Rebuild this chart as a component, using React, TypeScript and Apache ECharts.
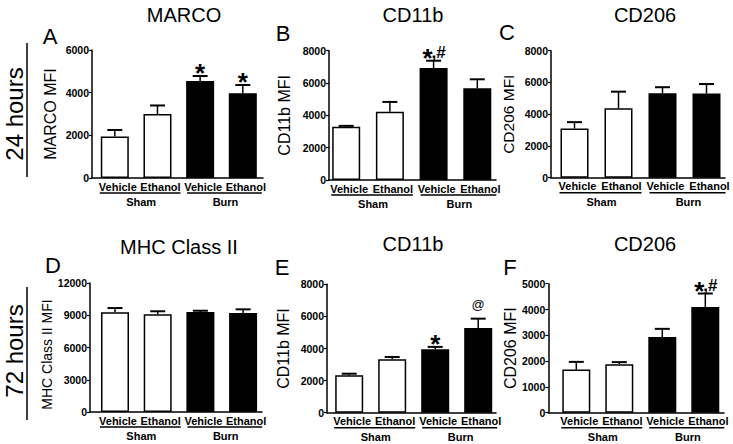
import React, { useEffect, useRef } from "react";
import * as echarts from "echarts";

const FONT = '"Liberation Sans", Arial, Helvetica, sans-serif';

// ---- data ----
const categories = ["Vehicle", "Ethanol", "Vehicle", "Ethanol"];
const groups = ["Sham", "Burn"];
const rowLabels = ["24 hours", "72 hours"];
const titles = ["MARCO", "CD11b", "CD206", "MHC Class II", "CD11b", "CD206"];
const letters = ["A", "B", "C", "D", "E", "F"];
const yNames = ["MARCO MFI", "CD11b MFI", "CD206 MFI", "MHC Class II MFI", "CD11b MFI", "CD206 MFI"];
const yMax = [6000, 8000, 8000, 12000, 8000, 5000];
const yInterval = [2000, 2000, 2000, 3000, 2000, 1000];

const marco24Mean = [1950, 3000, 4550, 3970];
const marco24Err = [300, 400, 230, 390];
const cd11b24Mean = [3300, 4230, 6930, 5670];
const cd11b24Err = [50, 600, 450, 560];
const cd206_24Mean = [3100, 4370, 5320, 5300];
const cd206_24Err = [400, 1050, 380, 600];
const mhc72Mean = [9270, 9090, 9300, 9210];
const mhc72Err = [400, 280, 120, 340];
const cd11b72Mean = [2330, 3330, 3950, 5280];
const cd11b72Err = [100, 140, 150, 580];
const cd206_72Mean = [1670, 1880, 2930, 4100];
const cd206_72Err = [300, 80, 320, 520];

const marco24Annot = ["", "", "*", "*"];
const cd11b24Annot = ["", "", "*,#", ""];
const cd206_24Annot = ["", "", "", ""];
const mhc72Annot = ["", "", "", ""];
const cd11b72Annot = ["", "", "*", "@"];
const cd206_72Annot = ["", "", "", "*,#"];

const means = [marco24Mean, cd11b24Mean, cd206_24Mean, mhc72Mean, cd11b72Mean, cd206_72Mean];
const errs = [marco24Err, cd11b24Err, cd206_24Err, mhc72Err, cd11b72Err, cd206_72Err];
const annots = [marco24Annot, cd11b24Annot, cd206_24Annot, mhc72Annot, cd11b72Annot, cd206_72Annot];

// ---- layout (pixels) ----
const layouts = [
  { axisX: 92, top: 50, bottom: 178, c0: 114.8, step: 42.67, right: 263, nameGap: 34, nameSize: 16, namePad: [0, 0, 0, 0], titleX: 184, titleY: 15, letterX: 50, letterY: 36 },
  { axisX: 329, top: 50.7, bottom: 180, c0: 346.2, step: 43.7, right: 496, nameGap: 37, nameSize: 16, namePad: [0, 0, 0, 0], titleX: 413, titleY: 15, letterX: 283, letterY: 33 },
  { axisX: 551, top: 50.7, bottom: 177.7, c0: 574.5, step: 44, right: 725, nameGap: 35, nameSize: 15.5, namePad: [0, 0, 0, 0], titleX: 645, titleY: 15, letterX: 507, letterY: 32 },
  { axisX: 90, top: 283, bottom: 412, c0: 115, step: 42.7, right: 262, nameGap: 33, nameSize: 14, namePad: [0, 14, 0, 0], titleX: 179, titleY: 247, letterX: 53, letterY: 265 },
  { axisX: 327, top: 284.3, bottom: 412.7, c0: 349.2, step: 43, right: 496, nameGap: 36, nameSize: 16, namePad: [0, 0, 0, 0], titleX: 413, titleY: 244, letterX: 282, letterY: 267 },
  { axisX: 548.3, top: 283.7, bottom: 412.7, c0: 576.3, step: 43, right: 724, nameGap: 26, nameSize: 16, namePad: [0, 0, 0, 0], titleX: 645, titleY: 244, letterX: 510, letterY: 267 },
];
const rowLayout = [
  { x: 14, y: 114, lineX: 27, y1: 43, y2: 177 },
  { x: 14, y: 351, lineX: 27, y1: 287, y2: 420 },
];

function txt(text: string, x: number, y: number, size: number, opts: any = {}) {
  return {
    type: "text", x, y, rotation: opts.rotation || 0, silent: true,
    style: {
      text, fontSize: size, fontFamily: FONT, fontWeight: opts.weight || "normal", fill: "#000",
      align: opts.align || "center", textAlign: opts.align || "center",
      verticalAlign: "middle", textVerticalAlign: "middle",
    },
  };
}
function seg(x1: number, y1: number, x2: number, y2: number, w = 1.5) {
  return { type: "line", silent: true, shape: { x1, y1, x2, y2 }, style: { stroke: "#000", lineWidth: w } };
}

function buildOption() {
  const grid: any[] = [];
  const xAxis: any[] = [];
  const yAxis: any[] = [];
  const series: any[] = [];
  const graphic: any[] = [];

  layouts.forEach((L, p) => {
    const xmin = -(L.c0 - L.axisX) / L.step;
    const xmax = (L.right - L.c0) / L.step;
    grid.push({ left: L.axisX, top: L.top, width: L.right - L.axisX, height: L.bottom - L.top });
    xAxis.push({
      gridIndex: p, type: "value", min: xmin, max: xmax,
      axisLine: { show: true, onZero: false, lineStyle: { color: "#000", width: 1.5 } },
      axisTick: { show: false }, splitLine: { show: false },
      axisLabel: {
        customValues: [0, 1, 2, 3],
        formatter: (v: number) => categories[Math.round(v)] ?? "",
        fontSize: 11, fontWeight: "bold", fontFamily: FONT, color: "#000", margin: 3, padding: [0, 0, 0, 6],
      },
    });
    yAxis.push({
      gridIndex: p, type: "value", min: 0, max: yMax[p], interval: yInterval[p],
      axisLine: { show: true, onZero: false, lineStyle: { color: "#000", width: 1.5 } },
      axisTick: { show: true, length: 3, lineStyle: { color: "#000", width: 1.2 } },
      splitLine: { show: false },
      axisLabel: { fontSize: 10.5, fontWeight: "bold", fontFamily: FONT, color: "#000", margin: 3, formatter: (v: number) => String(v) },
      name: yNames[p], nameLocation: "middle", nameGap: L.nameGap,
      nameTextStyle: { fontSize: L.nameSize, fontFamily: FONT, color: "#000", padding: L.namePad },
    });
    series.push({
      type: "bar", xAxisIndex: p, yAxisIndex: p, barWidth: 28, silent: true,
      data: means[p].map((m, i) => ({
        value: [i, m],
        itemStyle: i < 2 ? { color: "#fff", borderColor: "#000", borderWidth: 1.5 } : { color: "#000", borderColor: "#000", borderWidth: 1.5 },
      })),
    });
    const an = annots[p];
    series.push({
      type: "custom", xAxisIndex: p, yAxisIndex: p, silent: true, clip: false, z: 5,
      data: means[p].map((m, i) => [i, m, errs[p][i]]),
      renderItem: (params: any, api: any) => {
        const i = api.value(0), m = api.value(1), e = api.value(2);
        const b = api.coord([i, m]);
        const t = api.coord([i, m + e]);
        const cx = b[0];
        const children: any[] = [
          { type: "line", shape: { x1: cx, y1: b[1], x2: cx, y2: t[1] }, style: { stroke: "#000", lineWidth: 1.5 } },
          { type: "line", shape: { x1: cx - 7.5, y1: t[1], x2: cx + 7.5, y2: t[1] }, style: { stroke: "#000", lineWidth: 2 } },
        ];
        const a = an[params.dataIndex] || "";
        if (a.startsWith("*")) {
          const rest = a.slice(1);
          children.push({ type: "text", style: { text: "*", x: rest ? cx - 6 : cx, y: t[1] - 3, align: "center", verticalAlign: "middle", fontSize: 26, fontWeight: "bold", fontFamily: FONT, fill: "#000" } });
          if (rest) {
            children.push({ type: "text", style: { text: rest, x: cx - 2, y: t[1] - 8, align: "left", verticalAlign: "middle", fontSize: 17, fontWeight: "bold", fontFamily: FONT, fill: "#000" } });
          }
        } else if (a) {
          children.push({ type: "text", style: { text: a, x: cx, y: t[1] - 14, align: "center", verticalAlign: "middle", fontSize: 13, fontFamily: FONT, fill: "#000" } });
        }
        return { type: "group", children };
      },
    });

    graphic.push(txt(titles[p], L.titleX, L.titleY, 20));
    graphic.push(txt(letters[p], L.letterX, L.letterY, 22));
    const c = (k: number) => L.c0 + k * L.step;
    const uy = L.bottom + 15;
    const shamL = c(0) - 15, shamR = c(1) + 23;
    const burnL = c(2) - 13, burnR = c(3) + 19;
    graphic.push(seg(shamL, uy, shamR, uy, 1.5));
    graphic.push(seg(burnL, uy, burnR, uy, 1.5));
    graphic.push(txt(groups[0], (shamL + shamR) / 2 + 1, L.bottom + 24, 11, { weight: "bold" }));
    graphic.push(txt(groups[1], (burnL + burnR) / 2 + 1, L.bottom + 24, 11, { weight: "bold" }));
  });

  rowLayout.forEach((R, r) => {
    graphic.push(txt(rowLabels[r], R.x, R.y, 24, { rotation: Math.PI / 2 }));
    graphic.push(seg(R.lineX, R.y1, R.lineX, R.y2, 1.5));
  });

  return { animation: false, backgroundColor: "#fff", grid, xAxis, yAxis, series, graphic };
}

export default function App() {
  const ref = useRef<HTMLDivElement>(null);
  useEffect(() => {
    if (!ref.current) return;
    const chart = echarts.init(ref.current, null, { renderer: "svg", width: 733, height: 444 });
    chart.setOption(buildOption() as any);
    return () => chart.dispose();
  }, []);
  return <div ref={ref} style={{ position: "fixed", left: 0, top: 0, width: 733, height: 444, background: "#fff" }} />;
}
